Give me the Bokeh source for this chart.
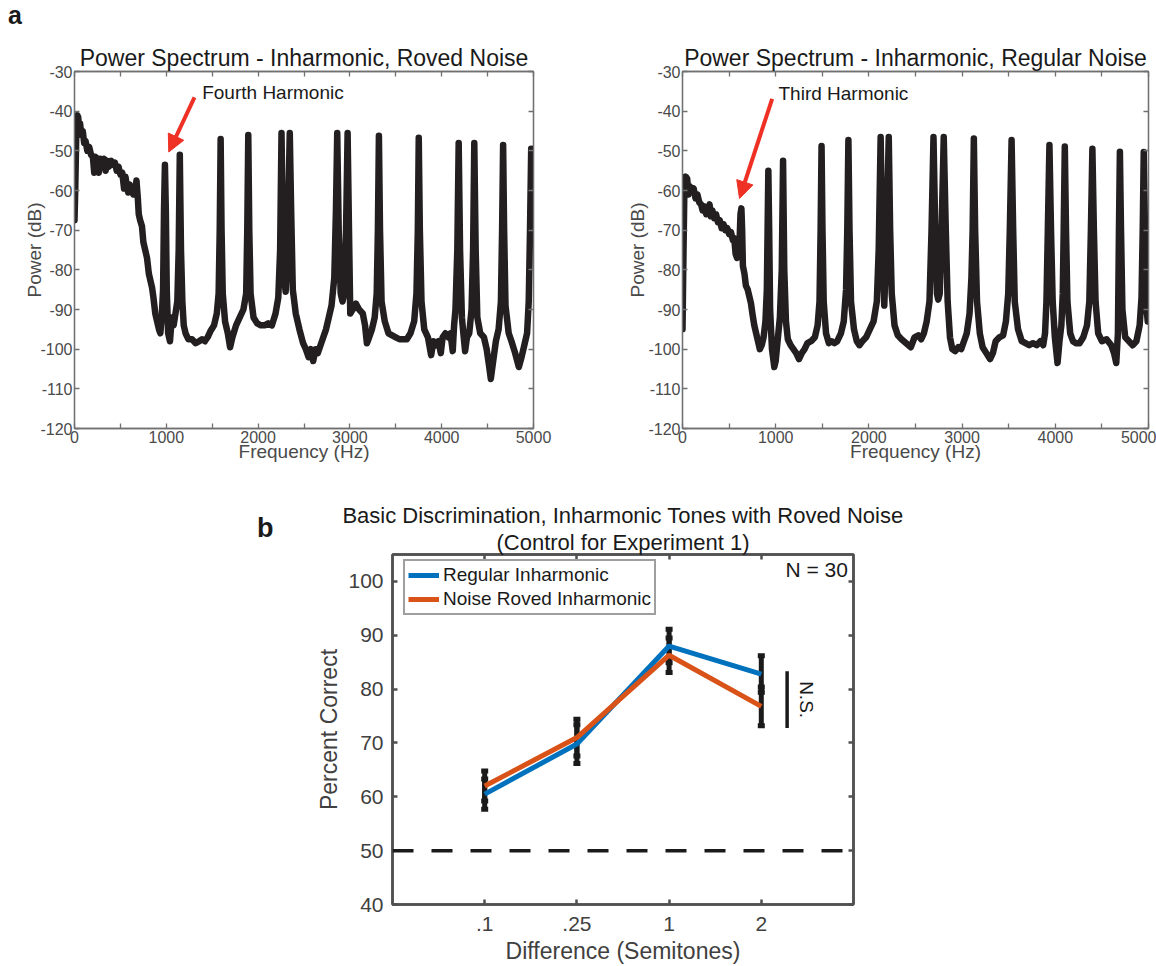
import math
from bokeh.plotting import figure
from bokeh.layouts import column, row
from bokeh.models import (Range1d, FixedTicker, LinearAxis, Label, Arrow, NormalHead, Title, Div,
                          Span, Whisker, TeeHead, ColumnDataSource, Legend, LegendItem)
from bokeh.embed import file_html
from bokeh.resources import INLINE

FONT = "Liberation Sans"

# ---------------- data: panel a (power spectra) ----------------
roved_freq = [0, 8, 20, 30, 40, 50, 60, 75, 90, 105, 120, 140, 160, 180, 200, 215, 225, 250, 265, 280,
              300, 320, 340, 355, 375, 400, 420, 440, 460, 480, 500, 520, 540, 555, 570, 585, 600, 620,
              640, 660, 675, 690, 700, 715, 735, 750, 770, 790, 810, 830, 845, 860, 880, 900, 920, 935,
              950, 965, 975, 985, 995, 1005, 1020, 1040, 1060, 1080, 1100, 1120, 1135, 1147, 1160, 1175,
              1190, 1210, 1240, 1280, 1320, 1360, 1390, 1420, 1450, 1480, 1520, 1550, 1570, 1582, 1592,
              1602, 1615, 1640, 1670, 1695, 1720, 1760, 1800, 1840, 1870, 1882, 1893, 1904, 1918, 1950,
              1990, 2030, 2070, 2110, 2150, 2190, 2220, 2240, 2255, 2272, 2290, 2300, 2315, 2332, 2345,
              2360, 2378, 2410, 2450, 2490, 2520, 2550, 2575, 2600, 2625, 2650, 2680, 2710, 2740, 2770,
              2800, 2830, 2848, 2862, 2878, 2900, 2920, 2940, 2958, 2975, 2990, 3004, 3030, 3065, 3100,
              3140, 3165, 3185, 3210, 3240, 3270, 3292, 3305, 3316, 3328, 3345, 3380, 3420, 3460, 3500,
              3540, 3580, 3620, 3660, 3700, 3725, 3740, 3750, 3762, 3780, 3810, 3850, 3885, 3910, 3940,
              3965, 3990, 4010, 4040, 4070, 4095, 4120, 4135, 4150, 4170, 4185, 4200, 4220, 4240, 4255,
              4275, 4300, 4325, 4342, 4355, 4370, 4388, 4420, 4460, 4490, 4515, 4535, 4555, 4590, 4620,
              4645, 4658, 4669, 4680, 4695, 4730, 4760, 4800, 4840, 4870, 4900, 4930, 4948, 4962, 4975,
              4990, 5000]
roved_db = [-67.5, -60, -45, -41, -41.5, -44, -43, -46, -45, -48, -47.5, -50, -49, -51, -51.5, -55.5, -51.5,
            -52, -55.5, -52, -53, -52, -55, -52.5, -54, -52.5, -53.5, -53, -55, -54, -56, -55.5, -59.5,
            -56.5, -59, -60.5, -58.5, -60, -61, -60, -57.5, -62, -66, -67.5, -69, -73, -75, -77, -81, -83,
            -84.5, -87, -91, -93, -95, -96, -92, -85, -65, -53.5, -65, -85, -96, -98, -92, -94, -91, -88,
            -75, -51, -75, -88, -94, -96, -97.5, -97.5, -98.5, -98, -97.5, -98, -97, -95.5, -94, -91, -86,
            -70, -47, -70, -86, -93, -96, -99.5, -97, -94, -92, -90, -86, -70, -46, -70, -86, -92, -93.5,
            -94, -94, -93.5, -94, -91, -87, -75, -45.5, -75, -83, -85.5, -78, -60, -45.5, -65, -85, -91,
            -95, -98.5, -100, -102, -100, -103, -100, -101, -99, -97, -95, -92, -89, -82, -65, -45.5, -70,
            -86, -88, -86, -70, -45.5, -70, -91, -90, -88.5, -90, -91, -94, -98.5, -97, -95, -92, -86, -70,
            -46.2, -70, -88, -93, -96, -96.5, -97, -97.5, -97.5, -97.5, -96, -93, -86, -70, -46.7, -70, -88,
            -95, -97, -101.5, -98, -99, -98, -101, -97, -96, -97, -96, -100.5, -94, -90, -75, -48, -75, -92,
            -97, -100.5, -97, -96, -90, -75, -48, -75, -92, -96, -97, -100, -104, -107.5, -104, -98, -95,
            -88, -70, -48.5, -70, -89, -96, -98, -101, -104.5, -102, -99, -96, -88, -70, -49.5, -52, -60]

regular_freq = [0, 8, 20, 35, 50, 65, 80, 100, 120, 140, 160, 180, 200, 215, 235, 255, 275, 290, 305, 320,
                340, 360, 380, 400, 420, 440, 460, 480, 500, 520, 540, 555, 570, 585, 600, 612, 622, 632,
                640, 648, 665, 680, 700, 720, 735, 750, 770, 790, 810, 830, 850, 870, 890, 905, 913, 921,
                930, 940, 960, 985, 1000, 1020, 1045, 1065, 1079, 1092, 1110, 1130, 1160, 1190, 1220, 1250,
                1280, 1310, 1340, 1380, 1420, 1450, 1470, 1482, 1492, 1502, 1515, 1540, 1570, 1600, 1630,
                1660, 1700, 1730, 1755, 1768, 1780, 1792, 1808, 1840, 1870, 1898, 1930, 1970, 2010, 2050,
                2085, 2105, 2126, 2145, 2165, 2185, 2200, 2213, 2228, 2245, 2275, 2310, 2350, 2400, 2450,
                2490, 2530, 2560, 2590, 2620, 2650, 2672, 2693, 2712, 2730, 2744, 2760, 2780, 2803, 2825,
                2845, 2870, 2895, 2925, 2960, 2990, 3020, 3050, 3080, 3100, 3113, 3126, 3140, 3160, 3190,
                3220, 3260, 3300, 3330, 3360, 3400, 3440, 3470, 3495, 3512, 3531, 3548, 3565, 3600, 3640,
                3680, 3720, 3760, 3800, 3840, 3870, 3890, 3905, 3920, 3937, 3954, 3972, 3995, 4024, 4045,
                4065, 4080, 4090, 4102, 4115, 4130, 4160, 4190, 4220, 4260, 4300, 4340, 4365, 4382, 4398,
                4414, 4432, 4460, 4500, 4550, 4600, 4630, 4654, 4672, 4683, 4693, 4705, 4720, 4750, 4790,
                4830, 4870, 4905, 4925, 4938, 4949, 4962, 4980, 4992, 5000]
regular_db = [-95, -80, -60, -56.5, -57, -61, -59, -60, -59.5, -62, -61, -63, -63.5, -65, -64, -66, -65,
              -63.5, -66.5, -65, -67, -66, -68, -67.5, -69.5, -68.5, -70, -69.5, -71, -70.5, -72.5, -72,
              -76, -77, -74, -73, -66, -64.5, -70, -79, -81, -84, -85, -87, -88.5, -91, -94, -96, -98,
              -100, -99, -97, -93, -85, -70, -55, -70, -90, -100, -104.5, -103, -98, -92, -80, -52.5, -80,
              -93, -97.5, -99, -100, -101, -102.5, -101, -100, -98.5, -98, -97, -94, -88, -70, -48.8, -70,
              -88, -96, -98.5, -98, -98.5, -98, -96, -93, -85, -70, -47.3, -70, -88, -95, -98, -99, -98,
              -97, -95, -93, -88, -75, -46.5, -75, -89, -75, -60, -46.5, -70, -86, -94, -96.5, -97.5,
              -98.5, -99.5, -97, -96.5, -97.5, -96, -93, -88, -70, -46.5, -70, -86, -87.5, -86, -70, -46.5,
              -70, -88, -97, -100, -100.5, -99.5, -100, -98, -96, -91, -82, -70, -46.9, -70, -88, -96,
              -99.5, -101, -102.5, -101, -98, -97, -96.5, -93, -86, -70, -47.3, -70, -88, -95, -98, -98.5,
              -99, -98.5, -99, -98, -99, -96, -88, -70, -48.5, -70, -88, -97, -103.5, -98, -94, -86, -70,
              -48.9, -70, -88, -96, -98, -98.5, -98.5, -97, -94, -88, -70, -49.5, -70, -88, -96, -98, -97.5,
              -99, -101, -103.5, -96, -70, -50.2, -70, -90, -97, -98, -99, -98, -94, -87, -70, -50.3, -70,
              -90, -93, -92.6]

freq_ticks = [0, 1000, 2000, 3000, 4000, 5000]
freq_minor_ticks = [500, 1500, 2500, 3500, 4500]
db_ticks = [-120, -110, -100, -90, -80, -70, -60, -50, -40, -30]

# ---------------- data: panel b ----------------
diff_labels = [".1", ".25", "1", "2"]
regular_pc = [60.5, 69.8, 88.0, 82.8]
regular_err = [2.8, 3.6, 3.1, 3.4]
roved_pc = [62.0, 71.0, 86.3, 76.8]
roved_err = [2.8, 3.4, 3.2, 3.6]
pc_ticks = [40, 50, 60, 70, 80, 90, 100]
chance_level = 50
ns_span = [72.8, 83.3]

SPEC_COLOR = "#231f20"
RED = "#ee3124"
BLUE = "#0072bd"
ORANGE = "#d95319"
TXT = "#1a1a1a"


def style_axis(ax, color, lw, label_color, size, standoff):
    ax.axis_line_color = color
    ax.axis_line_width = lw
    ax.major_tick_line_color = color
    ax.major_tick_line_width = lw
    ax.minor_tick_line_color = color
    ax.minor_tick_line_width = lw
    ax.major_tick_in = 5
    ax.major_tick_out = 0
    ax.minor_tick_in = 5
    ax.minor_tick_out = 0
    ax.major_label_text_color = label_color
    ax.major_label_text_font = FONT
    ax.major_label_text_font_size = size
    ax.major_label_standoff = standoff


def letter_div(letter, width, height, left, top, size):
    html = ('<div style="margin-left:%dpx;margin-top:%dpx;font-family:\'%s\';font-weight:bold;'
            'font-size:%dpx;line-height:%dpx;color:%s">%s</div>' % (left, top, FONT, size, size, TXT, letter))
    return Div(text=html, width=width, height=height,
               styles={"margin": "0", "padding": "0", "overflow": "visible"})


def title_obj(text, size, standoff):
    return Title(text=text, align="center", text_font=FONT, text_font_size=size,
                 text_font_style="normal", text_color=TXT, standoff=standoff)


def spectrum(freq, db, width, height, left, right, top, bottom, title, ylab_standoff):
    p = figure(width=width, height=height, x_range=Range1d(0, 5000), y_range=Range1d(-120, -30),
               output_backend="svg", toolbar_location=None,
               min_border_left=left, min_border_right=right,
               min_border_top=top, min_border_bottom=bottom)
    p.grid.visible = False
    p.outline_line_color = "#707070"
    p.outline_line_width = 1.3
    p.xaxis.ticker = FixedTicker(ticks=freq_ticks, minor_ticks=freq_minor_ticks)
    p.yaxis.ticker = FixedTicker(ticks=db_ticks)
    p.xaxis.major_label_overrides = {t: str(t) for t in freq_ticks}
    p.yaxis.major_label_overrides = {t: str(t) for t in db_ticks}
    p.xaxis.axis_label = "Frequency (Hz)"
    p.yaxis.axis_label = "Power (dB)"
    for ax in list(p.xaxis) + list(p.yaxis):
        style_axis(ax, "#707070", 1.3, "#4a4a4a", "16px", 2)
        ax.axis_label_text_font = FONT
        ax.axis_label_text_font_size = "19px"
        ax.axis_label_text_font_style = "normal"
        ax.axis_label_text_color = "#4a4a4a"
    p.xaxis.axis_label_standoff = -5
    p.yaxis.axis_label_standoff = ylab_standoff
    top_ax = LinearAxis(ticker=FixedTicker(ticks=freq_ticks, minor_ticks=freq_minor_ticks))
    style_axis(top_ax, "#707070", 1.3, None, "16px", 2)
    p.add_layout(top_ax, "above")
    right_ax = LinearAxis(ticker=FixedTicker(ticks=db_ticks))
    style_axis(right_ax, "#707070", 1.3, None, "16px", 2)
    p.add_layout(right_ax, "right")
    p.add_layout(title_obj(title, "23px", 2), "above")

    p.line(freq, db, line_color=SPEC_COLOR, line_width=6.5, line_join="round", line_cap="round")
    return p


# ---- letter "a" strip ----
fa = letter_div("a", 1156, 30, 8, 3, 25)

# ---- panel a left ----
p1 = spectrum(roved_freq, roved_db, 573, 460, 74, 40, 39, 62,
              "Power Spectrum - Inharmonic, Roved Noise", -8)
p1.add_layout(Arrow(end=NormalHead(size=17, fill_color=RED, line_color=RED, line_width=1),
                    x_start=1307, y_start=-36.5, x_end=1027, y_end=-50.3,
                    line_color=RED, line_width=4))
p1.add_layout(Label(x=1391, y=-35.4, text="Fourth Harmonic", text_align="left",
                    text_baseline="middle", text_font=FONT, text_font_size="19px",
                    text_color=TXT))

# ---- panel a right ----
p2 = spectrum(regular_freq, regular_db, 583, 460, 109, 8, 41, 52,
              "Power Spectrum - Inharmonic, Regular Noise", -3)
p2.add_layout(Arrow(end=NormalHead(size=17, fill_color=RED, line_color=RED, line_width=1),
                    x_start=962, y_start=-36.9, x_end=612, y_end=-62.0,
                    line_color=RED, line_width=4))
p2.add_layout(Label(x=1030, y=-35.6, text="Third Harmonic", text_align="left",
                    text_baseline="middle", text_font=FONT, text_font_size="19px",
                    text_color=TXT))

# ---- letter "b" column ----
fb = letter_div("b", 300, 476, 257, 25, 27)

# ---- panel b ----
pos = list(range(1, len(diff_labels) + 1))
p3 = figure(width=856, height=476, x_range=Range1d(0, len(diff_labels) + 1), y_range=Range1d(40, 105),
            output_backend="svg", toolbar_location=None,
            min_border_left=92, min_border_right=303, min_border_top=64, min_border_bottom=61)
p3.grid.visible = False
p3.outline_line_color = "#505050"
p3.outline_line_width = 2.5
p3.xaxis.ticker = FixedTicker(ticks=pos)
p3.xaxis.major_label_overrides = {k: lab for k, lab in zip(pos, diff_labels)}
p3.yaxis.ticker = FixedTicker(ticks=pc_ticks)
p3.yaxis.major_label_overrides = {t: str(t) for t in pc_ticks}
p3.xaxis.axis_label = "Difference (Semitones)"
p3.yaxis.axis_label = "Percent Correct"
for ax in list(p3.xaxis) + list(p3.yaxis):
    style_axis(ax, "#505050", 2.5, "#404040", "21px", 9)
    ax.axis_label_text_font = FONT
    ax.axis_label_text_font_size = "23px"
    ax.axis_label_text_font_style = "normal"
    ax.axis_label_text_color = "#404040"
    ax.axis_label_standoff = 3
p3.xaxis.major_label_standoff = 12
p3.xaxis.axis_label_standoff = 4
for side, tk in (("above", pos), ("right", pc_ticks)):
    a = LinearAxis(ticker=FixedTicker(ticks=tk))
    style_axis(a, "#505050", 2.5, None, "21px", 9)
    p3.add_layout(a, side)
p3.add_layout(title_obj("(Control for Experiment 1)", "22px", 0), "above")
p3.add_layout(title_obj("Basic Discrimination, Inharmonic Tones with Roved Noise", "22px", 0), "above")

r_reg = p3.line(pos, regular_pc, line_color=BLUE, line_width=5)
r_rov = p3.line(pos, roved_pc, line_color=ORANGE, line_width=5)

for mean, err in ((regular_pc, regular_err), (roved_pc, roved_err)):
    src = ColumnDataSource(dict(x=pos,
                                upper=[m + e for m, e in zip(mean, err)],
                                lower=[m - e for m, e in zip(mean, err)]))
    p3.add_layout(Whisker(base="x", upper="upper", lower="lower", source=src,
                          line_color=TXT, line_width=5,
                          upper_head=TeeHead(size=7, line_width=5, line_color=TXT),
                          lower_head=TeeHead(size=7, line_width=5, line_color=TXT)))

p3.add_layout(Span(location=chance_level, dimension="width", line_color=TXT,
                   line_width=3.5, line_dash="21 18"))
p3.segment(x0=4.28, y0=ns_span[0], x1=4.28, y1=ns_span[1], line_color=TXT, line_width=3.5)
p3.add_layout(Label(x=4.49, y=sum(ns_span) / 2, text="N.S.", angle=-math.pi / 2,
                    text_align="center", text_baseline="middle", text_font=FONT,
                    text_font_size="19px", text_color=TXT))
p3.add_layout(Label(x=4.94, y=102.2, text="N = 30", text_align="right", text_baseline="middle",
                    text_font=FONT, text_font_size="21px", text_color=TXT))

legend = Legend(items=[LegendItem(label="Regular Inharmonic", renderers=[r_reg]),
                       LegendItem(label="Noise Roved Inharmonic", renderers=[r_rov])],
                location=(11, 289))
legend.margin = 0
legend.padding = 3
legend.spacing = 2
legend.glyph_width = 31
legend.glyph_height = 20
legend.label_height = 20
legend.label_standoff = 4
legend.label_text_font = FONT
legend.label_text_font_size = "19px"
legend.label_text_color = TXT
legend.border_line_color = "#404040"
legend.border_line_width = 2
legend.background_fill_color = "white"
legend.background_fill_alpha = 1
p3.add_layout(legend)

layout = column(fa, row(p1, p2), row(fb, p3))
open("out.html", "w").write(file_html(layout, INLINE))
